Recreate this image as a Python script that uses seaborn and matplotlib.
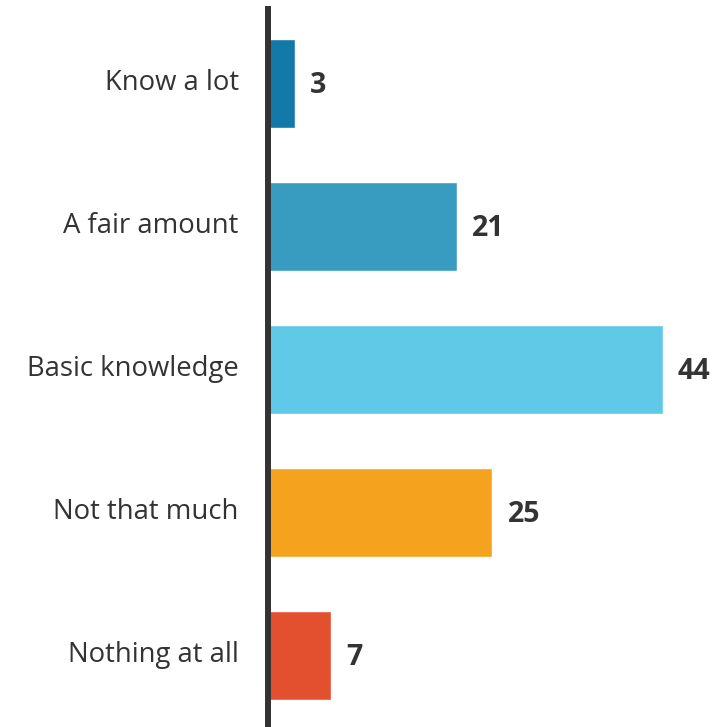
import matplotlib
matplotlib.use("Agg")
import matplotlib.pyplot as plt
import matplotlib.transforms as mtrans
import seaborn as sns
import pandas as pd

categories = ["Know a lot", "A fair amount", "Basic knowledge", "Not that much", "Nothing at all"]
values = [3, 21, 44, 25, 7]
colors = ["#1379A9", "#389BC0", "#5FC9E7", "#F5A31E", "#E2502F"]

sns.set_theme(style="white")
plt.rcParams['font.family'] = ['Open Sans', 'DejaVu Sans']

df = pd.DataFrame({"category": categories, "value": values})

fig = plt.figure(figsize=(7.25, 7.27), dpi=100)
ax = fig.add_axes([268/725, 0, 1 - 268/725, 1 - 9/727])

sns.barplot(data=df, y="category", x="value", hue="category", palette=colors,
            legend=False, orient="h", width=0.62, ax=ax, saturation=1)

ax.set_xlim(0, 44 * 457 / 395)
ax.set_ylim(4.5, -0.521)
ax.set_xlabel("")
ax.set_ylabel("")
ax.set_xticks([])
for s in ["top", "right", "bottom"]:
    ax.spines[s].set_visible(False)
ax.spines["left"].set_color("#333333")
ax.spines["left"].set_linewidth(4.3)
ax.spines["left"].set_zorder(5)
ax.tick_params(axis="y", length=0, pad=21, labelsize=19.8, labelcolor="#333333")
shift = mtrans.ScaledTranslation(0, 4/100, fig.dpi_scale_trans)
for lab in ax.get_yticklabels():
    lab.set_transform(lab.get_transform() + shift)

for i, v in enumerate(values):
    ax.annotate(str(v), xy=(v, i), xytext=(15, -2), textcoords="offset pixels",
                ha="left", va="center", fontsize=20.5, fontweight="bold", color="#333333")

fig.savefig("out.png", dpi=100)
